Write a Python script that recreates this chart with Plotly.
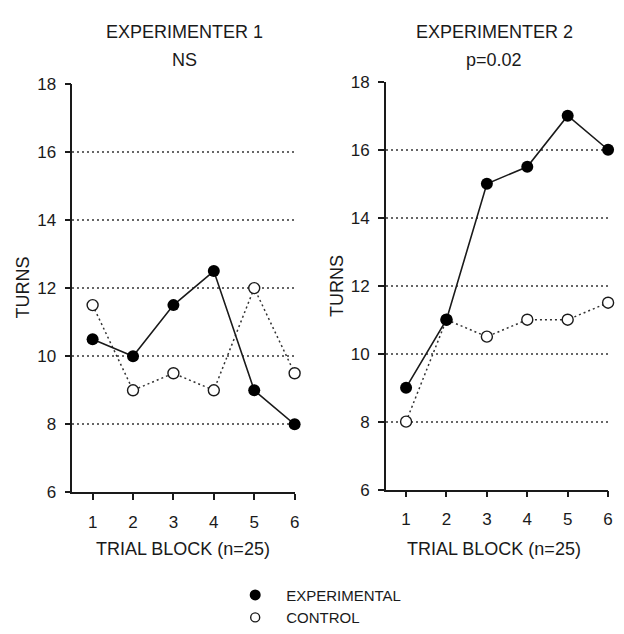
import plotly.graph_objects as go

blocks = [1, 2, 3, 4, 5, 6]
exp1_experimental = [10.5, 10, 11.5, 12.5, 9, 8]
exp1_control = [11.5, 9, 9.5, 9, 12, 9.5]
exp2_experimental = [9, 11, 15, 15.5, 17, 16]
exp2_control = [8, 11, 10.5, 11, 11, 11.5]
panel_titles = ["EXPERIMENTER 1", "EXPERIMENTER 2"]
panel_subtitles = ["NS", "p=0.02"]
series_names = ["EXPERIMENTAL", "CONTROL"]
y_ticks = [6, 8, 10, 12, 14, 16, 18]

FONT = "Liberation Sans, Arial, Helvetica, sans-serif"
INK = "#1a1a1a"
W, H = 624, 634

fig = go.Figure()

def add_panel(xa, ya, exp, ctl):
    fig.add_trace(go.Scatter(x=blocks, y=ctl, mode="lines+markers", xaxis=xa, yaxis=ya,
                             line=dict(color="#333", width=1.5, dash="2px,3px"),
                             marker=dict(symbol="circle", size=11, color="white",
                                         line=dict(color=INK, width=1.4)),
                             showlegend=False, cliponaxis=False))
    fig.add_trace(go.Scatter(x=blocks, y=exp, mode="lines+markers", xaxis=xa, yaxis=ya,
                             line=dict(color=INK, width=1.6),
                             marker=dict(symbol="circle", size=12, color="black",
                                         line=dict(color="black", width=0)),
                             showlegend=False, cliponaxis=False))

add_panel("x", "y", exp1_experimental, exp1_control)
add_panel("x2", "y2", exp2_experimental, exp2_control)

# legend-only entries
fig.add_trace(go.Scatter(x=[None], y=[None], mode="markers", name=series_names[0],
                         marker=dict(symbol="circle", size=11, color="black")))
fig.add_trace(go.Scatter(x=[None], y=[None], mode="markers", name=series_names[1],
                         marker=dict(symbol="circle", size=9, color="white",
                                     line=dict(color=INK, width=1.4))))

xcommon = dict(range=[0.5, 6], tickvals=blocks, showgrid=False, zeroline=False,
               showline=True, linecolor=INK, linewidth=1.5, ticks="outside",
               ticklen=6, tickwidth=1.5, tickcolor=INK, ticklabelstandoff=7,
               tickfont=dict(family=FONT, size=17, color=INK), fixedrange=True)
ycommon = dict(range=[6, 18], tickvals=y_ticks, showgrid=True, gridcolor="#666",
               griddash="2px,3px", gridwidth=1.5, zeroline=False, showline=True,
               linecolor=INK, linewidth=1.5, ticks="outside", ticklen=6,
               tickwidth=1.5, tickcolor=INK, ticklabelstandoff=5,
               tickfont=dict(family=FONT, size=17, color=INK), fixedrange=True)

fig.update_layout(
    width=W, height=H, margin=dict(l=0, r=0, t=0, b=0),
    paper_bgcolor="white", plot_bgcolor="white",
    xaxis=dict(domain=[73 / W, 297 / W], anchor="y", **xcommon),
    yaxis=dict(domain=[(H - 505) / H, (H - 78) / H], anchor="x", **ycommon),
    xaxis2=dict(domain=[389 / W, 613 / W], anchor="y2", **xcommon),
    yaxis2=dict(domain=[(H - 502) / H, (H - 76) / H], anchor="x2", **ycommon),
    showlegend=True,
    legend=dict(x=226 / W, y=1 - 595 / H, xanchor="left", yanchor="top",
                font=dict(family=FONT, size=15, color=INK), bgcolor="rgba(0,0,0,0)",
                itemwidth=52, tracegroupgap=0),
    font=dict(family=FONT, color=INK),
)

ann = []
for cx, t, s in [(186, panel_titles[0], panel_subtitles[0]), (498, panel_titles[1], panel_subtitles[1])]:
    ann.append(dict(x=cx / W, y=1 - 24 / H, xref="paper", yref="paper", text=t, showarrow=False,
                    xanchor="center", yanchor="middle", font=dict(family=FONT, size=18, color=INK)))
    ann.append(dict(x=cx / W, y=1 - 53 / H, xref="paper", yref="paper", text=s, showarrow=False,
                    xanchor="center", yanchor="middle", font=dict(family=FONT, size=18, color=INK)))
for cx in [184, 498]:
    ann.append(dict(x=cx / W, y=1 - 564 / H, xref="paper", yref="paper", text="TRIAL BLOCK (n=25)",
                    showarrow=False, xanchor="center", yanchor="middle",
                    font=dict(family=FONT, size=18, color=INK)))
for cx, cy in [(23, 291), (339, 289)]:
    ann.append(dict(x=cx / W, y=1 - cy / H, xref="paper", yref="paper", text="TURNS",
                    showarrow=False, xanchor="center", yanchor="middle", textangle=-90,
                    font=dict(family=FONT, size=18, color=INK)))
fig.update_layout(annotations=ann)

fig.write_html("out.html")
